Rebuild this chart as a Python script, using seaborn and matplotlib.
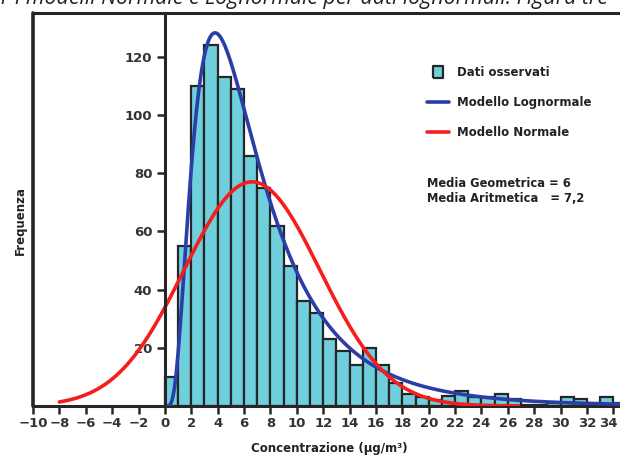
import numpy as np
import pandas as pd
import matplotlib
matplotlib.use("Agg")
import matplotlib.pyplot as plt
import matplotlib.transforms as mtransforms
import seaborn as sns
from matplotlib.lines import Line2D

# ---------------- data ----------------
bin_left = list(range(0, 35))
counts = [10, 55, 110, 124, 113, 109, 86, 75, 62, 48,
          36, 32, 23, 19, 14, 20, 14, 8, 4, 3,
          2, 3.5, 5, 3, 3, 4, 2.5, 0.5, 0.5, 1,
          3, 2.5, 1, 3, 1]
x_ticks = list(range(-10, 35, 2))
y_ticks = [20, 40, 60, 80, 100, 120]

# model parameters (fitted curves shown in the chart)
geo_mean = 6.0        # lognormal geometric mean
log_sigma = 0.676     # lognormal shape
log_scale = 1037      # counts x bin width
norm_mean = 6.6
norm_sd = 5.15
norm_scale = 994
log_range = (0.05, 34.6)
norm_range = (-8.0, 26.8)

legend_labels = ["Dati osservati", "Modello Lognormale", "Modello Normale"]
stats_lines = ["Media Geometrica = 6", "Media Aritmetica   = 7,2"]
caption = "per i modelli Normale e Lognormale per dati lognormali. Figura tre"

bar_color = "#6fcfdc"
edge_color = "#262626"
blue = "#2a3ea6"
red = "#f51d1d"

# ---------------- build frames ----------------
hist_df = pd.DataFrame({"x": np.array(bin_left) + 0.5, "count": counts})

xl = np.linspace(*log_range, 500)
yl = log_scale / (xl * log_sigma * np.sqrt(2 * np.pi)) * np.exp(
    -(np.log(xl) - np.log(geo_mean)) ** 2 / (2 * log_sigma ** 2))
log_df = pd.DataFrame({"x": xl, "y": yl})

xn = np.linspace(*norm_range, 500)
yn = norm_scale / (norm_sd * np.sqrt(2 * np.pi)) * np.exp(
    -(xn - norm_mean) ** 2 / (2 * norm_sd ** 2))
norm_df = pd.DataFrame({"x": xn, "y": yn})

# ---------------- figure ----------------
sns.set_theme(style="white")
plt.rcParams["font.family"] = ["DejaVu Sans"]

W, H = 620, 463
fig = plt.figure(figsize=(W / 100, H / 100), dpi=100)
ax = fig.add_axes([33 / W, 1 - 406 / H, 1 - 33 / W, (406 - 13) / H])

edges = list(bin_left) + [bin_left[-1] + 1]
sns.histplot(data=hist_df, x="x", weights="count", bins=edges, ax=ax,
             color=bar_color, alpha=1, edgecolor=edge_color, linewidth=1.6,
             zorder=2)
sns.lineplot(data=log_df, x="x", y="y", ax=ax, color=blue, linewidth=2.6,
             zorder=3)
sns.lineplot(data=norm_df, x="x", y="y", ax=ax, color=red, linewidth=2.6,
             zorder=4)

ax.set_xlim(-10, 34.5)
ax.set_ylim(0, 135)
ax.set_xticks(x_ticks)
ax.set_xticklabels([("\u2212" + str(-t)) if t < 0 else str(t) for t in x_ticks])
ax.set_yticks(y_ticks)

for s in ["top", "bottom"]:
    ax.spines[s].set_color(edge_color)
    ax.spines[s].set_linewidth(2.2)
ax.spines["right"].set_visible(False)
ax.spines["left"].set_position(("data", 0))
ax.spines["left"].set_color(edge_color)
ax.spines["left"].set_linewidth(2.2)
ax.spines["left"].set_zorder(5)
ax.axvline(-10, color=edge_color, linewidth=2.6, clip_on=False, zorder=6)

ax.tick_params(axis="both", which="both", direction="out", length=6, width=1.8,
               color=edge_color, labelcolor="#333333", labelsize=9.5)
ax.tick_params(axis="x", pad=2, bottom=True)
ax.tick_params(axis="y", pad=3, left=True)
for lab in ax.get_xticklabels() + ax.get_yticklabels():
    lab.set_fontweight("bold")
# nudge the last x tick label so it stays inside the canvas
last = ax.get_xticklabels()[-1]
last.set_transform(last.get_transform() +
                   mtransforms.ScaledTranslation(-5 / 100, 0, fig.dpi_scale_trans))

ax.set_xlabel("Concentrazione (µg/m³)", fontsize=8.5, fontweight="bold",
              color="#222222")
ax.xaxis.set_label_coords(0.505, -0.092)
ax.set_ylabel("Frequenza", fontsize=8.5, fontweight="bold", color="#222222")
ax.yaxis.label.set_va("center")
ax.yaxis.set_label_coords(-0.022, 0.473)

# legend
handles = [
    Line2D([], [], linestyle="none",
           marker=[(-0.8, -1), (0.8, -1), (0.8, 1), (-0.8, 1), (-0.8, -1)],
           markersize=9, markerfacecolor=bar_color, markeredgecolor=edge_color,
           markeredgewidth=1.6),
    Line2D([], [], color=blue, linewidth=2.6),
    Line2D([], [], color=red, linewidth=2.6),
]
leg = ax.legend(handles, legend_labels, loc="upper left",
                bbox_to_anchor=(427 / W, 1 - 66 / H), bbox_transform=fig.transFigure,
                frameon=False, fontsize=8.5, handlelength=1.9, handletextpad=0.65,
                labelspacing=1.45, borderpad=0, borderaxespad=0)
for t in leg.get_texts():
    t.set_fontweight("bold")
    t.set_color("#222222")

fig.text(427 / W, 1 - 177 / H, "\n".join(stats_lines), fontsize=8.3,
         fontweight="bold", color="#222222", va="top", ha="left",
         linespacing=1.25)

fig.text(-22 / W, 1 - 4 / H, caption, fontsize=15.4, style="italic",
         family=["Open Sans", "DejaVu Sans"], color="#222222", va="baseline",
         ha="left")

fig.savefig("out.png", dpi=100)
